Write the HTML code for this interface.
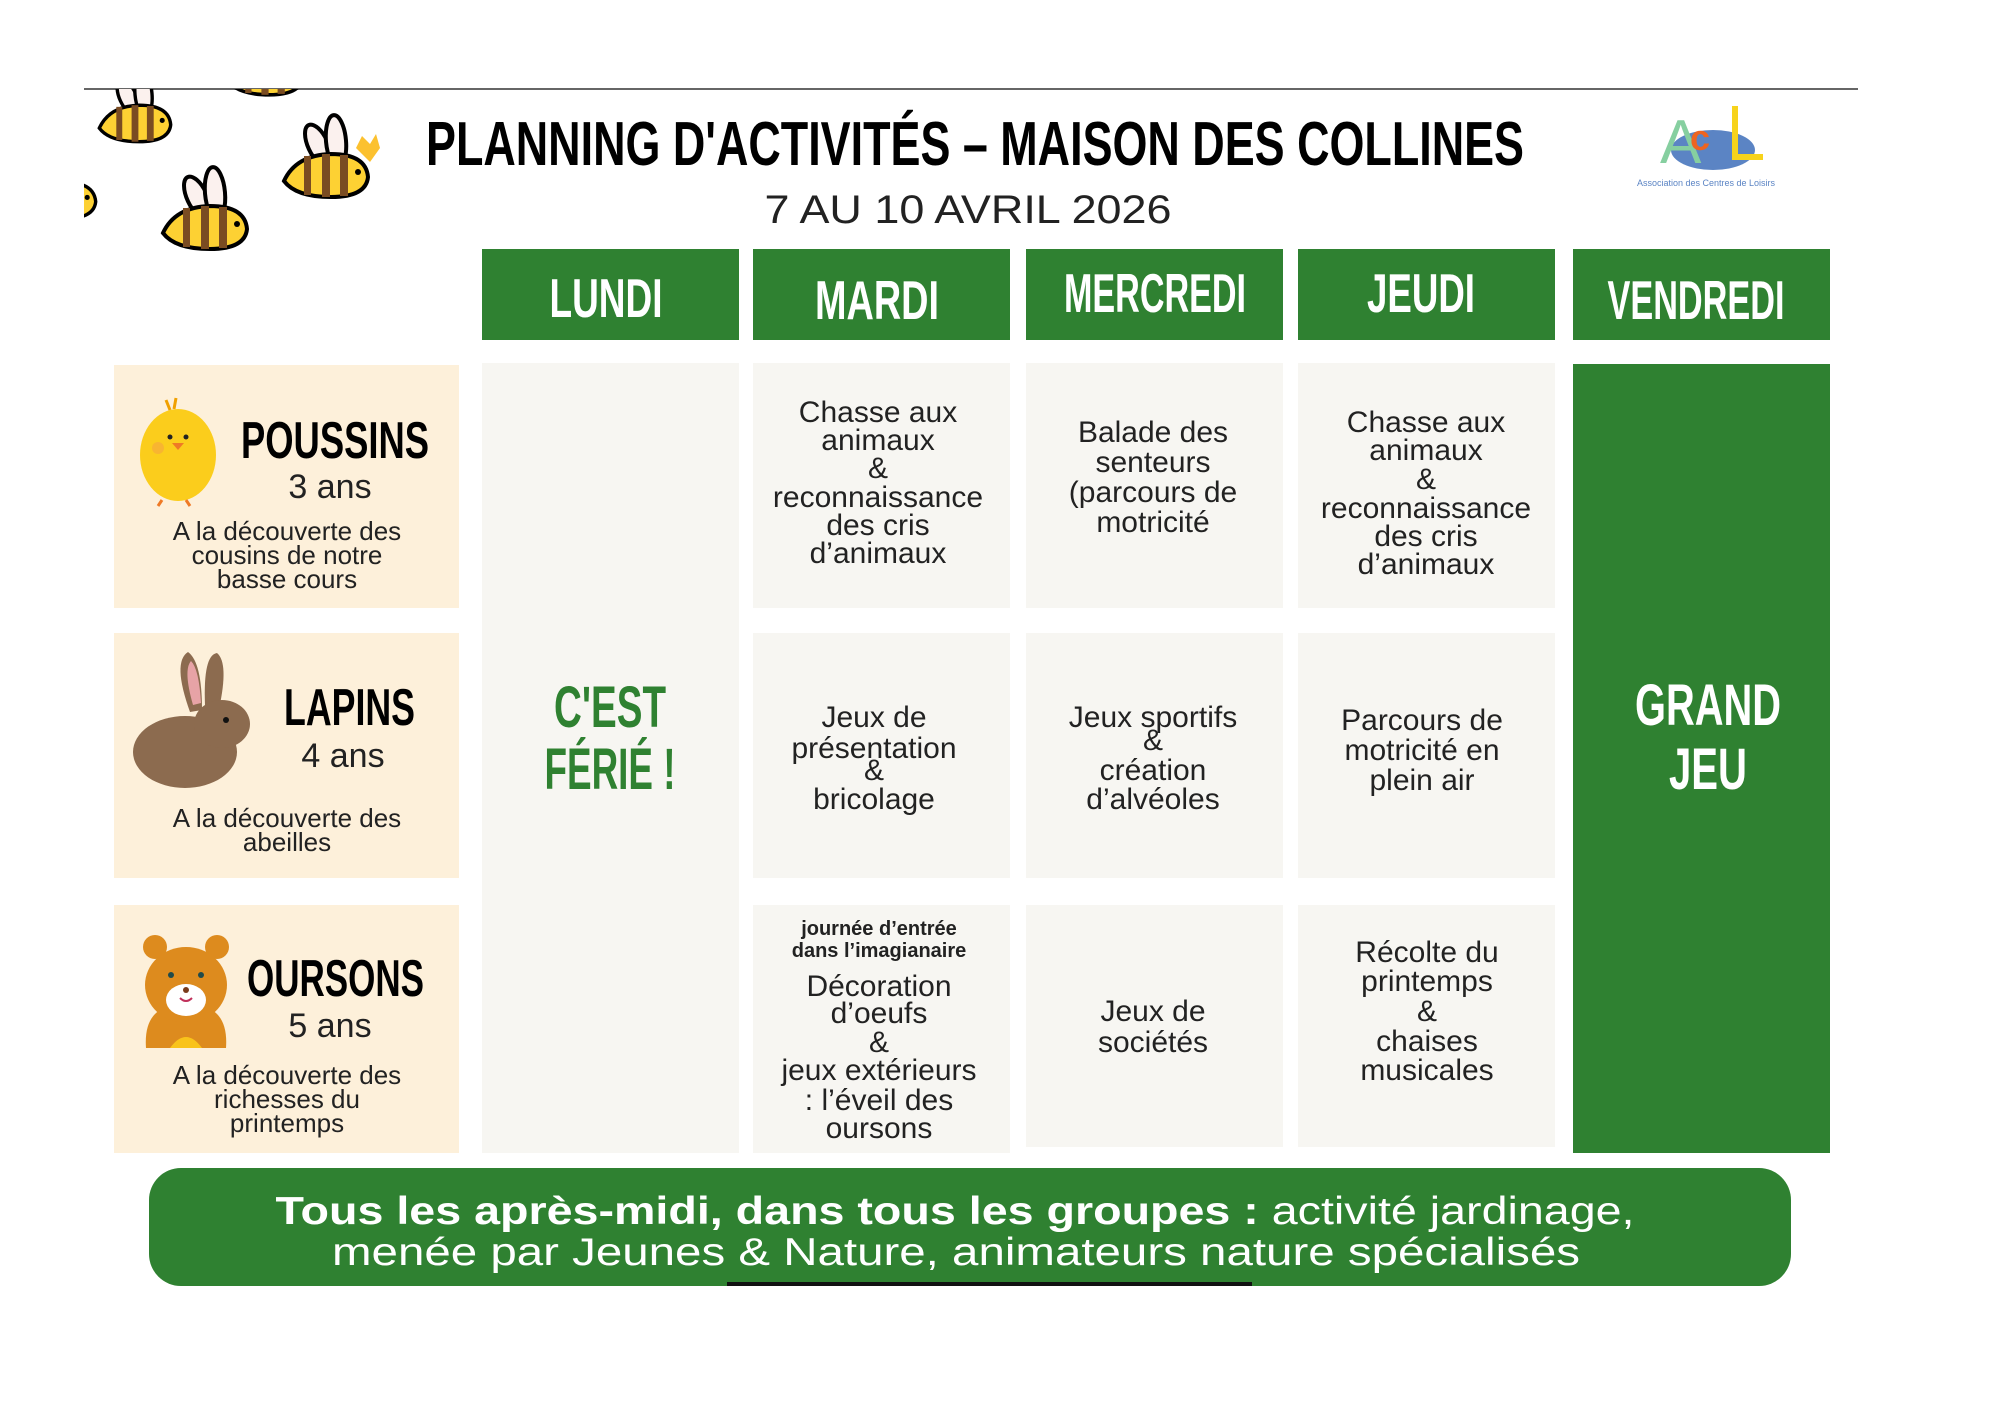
<!DOCTYPE html>
<html><head><meta charset="utf-8"><style>
html,body{margin:0;padding:0;background:#fff;}
svg{display:block;}
.h{font-family:"Liberation Sans Narrow","Liberation Sans",sans-serif;font-weight:bold;}
.t{font-family:"Liberation Sans",sans-serif;fill:#222;}
</style></head><body>
<svg width="2000" height="1414" viewBox="0 0 2000 1414" xmlns="http://www.w3.org/2000/svg">
<defs>
<clipPath id="cp"><rect x="84" y="89" width="1800" height="1300"/></clipPath>
<g id="bee">
 <ellipse cx="-8" cy="-30" rx="10" ry="22" transform="rotate(-25 -8 -30)" fill="#fbf1ee" stroke="#000" stroke-width="4"/>
 <ellipse cx="10" cy="-34" rx="10" ry="26" transform="rotate(-5 10 -34)" fill="#fbf1ee" stroke="#000" stroke-width="4"/>
 <path d="M-42 6 Q-30 -20 5 -21 Q40 -21 42 2 Q40 22 5 22 Q-30 22 -42 6Z" fill="#fdd133" stroke="#000" stroke-width="4"/>
 <rect x="-22" y="-19" width="7" height="39" fill="#7a4c22"/>
 <rect x="-4" y="-21" width="8" height="43" fill="#7a4c22"/>
 <rect x="14" y="-20" width="8" height="41" fill="#7a4c22"/>
 <circle cx="32" cy="-3" r="3" fill="#000"/>
</g>
</defs>
<line x1="84" y1="89" x2="1858" y2="89" stroke="#666" stroke-width="2"/>
<g clip-path="url(#cp)">
 <use href="#bee" transform="translate(135,123) scale(0.85)"/>
 <use href="#bee" transform="translate(205,227)"/>
 <use href="#bee" transform="translate(326,175)"/>
 <use href="#bee" transform="translate(60,200) scale(0.85)"/>
 <use href="#bee" transform="translate(265,75) scale(0.9)"/>
</g>
<path d="M356 148 l6 -12 l8 8 l6 -10 l4 14 l-10 14z" fill="#fcc12f"/>

<text class="h" x="975" y="165" font-size="62" text-anchor="middle" textLength="1098" lengthAdjust="spacingAndGlyphs" fill="#000">PLANNING D'ACTIVITÉS – MAISON DES COLLINES</text>
<text class="t" x="968" y="223" font-size="40" text-anchor="middle" textLength="407" lengthAdjust="spacingAndGlyphs" fill="#111">7 AU 10 AVRIL 2026</text>

<!-- logo -->
<ellipse cx="1713" cy="150" rx="42" ry="20" fill="#5b84c4"/>
<text x="1660" y="163" font-family="Liberation Sans,sans-serif" font-size="62" fill="#86cfa0">A</text>
<text x="1690" y="150" font-family="Liberation Sans,sans-serif" font-size="36" font-weight="bold" fill="#ee6420">c</text>
<path d="M1735 106 V157 H1763" stroke="#f7d31c" stroke-width="6" fill="none"/>
<text x="1706" y="186" font-family="Liberation Sans,sans-serif" font-size="9" text-anchor="middle" fill="#5b84c4">Association des Centres de Loisirs</text>

<!-- headers -->
<g fill="#2f8131">
<rect x="482" y="249" width="257" height="91"/>
<rect x="753" y="249" width="257" height="91"/>
<rect x="1026" y="249" width="257" height="91"/>
<rect x="1298" y="249" width="257" height="91"/>
<rect x="1573" y="249" width="257" height="91"/>
</g>
<g class="h" fill="#fff" font-size="55" text-anchor="middle">
<text x="606" y="317" textLength="113" lengthAdjust="spacingAndGlyphs">LUNDI</text>
<text x="877" y="319" textLength="124" lengthAdjust="spacingAndGlyphs">MARDI</text>
<text x="1155" y="312" textLength="182" lengthAdjust="spacingAndGlyphs">MERCREDI</text>
<text x="1421" y="312" textLength="108" lengthAdjust="spacingAndGlyphs">JEUDI</text>
<text x="1696" y="319" textLength="177" lengthAdjust="spacingAndGlyphs">VENDREDI</text>
</g>

<!-- group boxes -->
<g fill="#fdf0da">
<rect x="114" y="365" width="345" height="243"/>
<rect x="114" y="633" width="345" height="245"/>
<rect x="114" y="905" width="345" height="248"/>
</g>
<!-- cells -->
<g fill="#f7f6f2">
<rect x="482" y="363" width="257" height="790"/>
<rect x="753" y="363" width="257" height="245"/>
<rect x="1026" y="363" width="257" height="245"/>
<rect x="1298" y="363" width="257" height="245"/>
<rect x="753" y="633" width="257" height="245"/>
<rect x="1026" y="633" width="257" height="245"/>
<rect x="1298" y="633" width="257" height="245"/>
<rect x="753" y="905" width="257" height="248"/>
<rect x="1026" y="905" width="257" height="242"/>
<rect x="1298" y="905" width="257" height="242"/>
</g>
<rect x="1573" y="364" width="257" height="789" fill="#2f8131"/>

<!-- chick -->
<ellipse cx="178" cy="455" rx="38" ry="46" fill="#fbcd1c"/>
<path d="M170 410 l-4 -10 M174 409 l2 -11" stroke="#f0a000" stroke-width="3"/>
<circle cx="170" cy="437" r="2.5" fill="#222"/><circle cx="186" cy="437" r="2.5" fill="#222"/>
<path d="M172 443 h12 l-6 7z" fill="#ef7a26"/>
<circle cx="158" cy="448" r="6" fill="#f7a540" opacity=".6"/>
<path d="M162 500 l-4 6 M186 500 l4 6" stroke="#ef7a26" stroke-width="3"/>
<g class="h" fill="#000" font-size="52"><text x="241" y="458" textLength="188" lengthAdjust="spacingAndGlyphs">POUSSINS</text></g>
<g class="t" font-size="34" text-anchor="middle"><text x="330" y="498">3 ans</text></g>
<g class="t" font-size="26" text-anchor="middle">
<text x="287" y="540">A la découverte des</text><text x="287" y="564">cousins de notre</text><text x="287" y="588">basse cours</text></g>

<!-- rabbit -->
<path d="M190 712 q-18 -50 -2 -60 q14 10 14 58z" fill="#8c6b4f"/>
<path d="M205 705 q-2 -50 12 -52 q12 10 2 56z" fill="#8c6b4f"/>
<path d="M193 705 q-10 -35 -2 -44 q8 8 10 42z" fill="#e7a3a6"/>
<ellipse cx="185" cy="752" rx="52" ry="36" fill="#8c6b4f"/>
<ellipse cx="222" cy="724" rx="28" ry="24" fill="#8c6b4f"/>
<circle cx="226" cy="720" r="3" fill="#111"/>
<g class="h" fill="#000" font-size="52"><text x="284" y="725" textLength="131" lengthAdjust="spacingAndGlyphs">LAPINS</text></g>
<g class="t" font-size="34" text-anchor="middle"><text x="343" y="767">4 ans</text></g>
<g class="t" font-size="26" text-anchor="middle"><text x="287" y="827">A la découverte des</text><text x="287" y="851">abeilles</text></g>

<!-- bear -->
<circle cx="155" cy="947" r="12" fill="#dd8b1e"/><circle cx="217" cy="947" r="12" fill="#dd8b1e"/>
<path d="M160 1010 h52 q16 10 14 38 h-80 q-2 -28 14 -38z" fill="#dd8b1e"/>
<path d="M170 1048 q16 -22 32 0z" fill="#f9c31a"/>
<ellipse cx="186" cy="985" rx="41" ry="38" fill="#dd8b1e"/>
<ellipse cx="186" cy="1000" rx="20" ry="16" fill="#fff"/>
<circle cx="171" cy="975" r="3" fill="#1f4a4a"/><circle cx="201" cy="975" r="3" fill="#1f4a4a"/>
<circle cx="186" cy="990" r="3" fill="#7a3a1a"/>
<path d="M180 998 q6 6 12 0" stroke="#c0305a" stroke-width="2" fill="none"/>
<g class="h" fill="#000" font-size="52"><text x="247" y="996" textLength="177" lengthAdjust="spacingAndGlyphs">OURSONS</text></g>
<g class="t" font-size="34" text-anchor="middle"><text x="330" y="1037">5 ans</text></g>
<g class="t" font-size="26" text-anchor="middle"><text x="287" y="1084">A la découverte des</text><text x="287" y="1108">richesses du</text><text x="287" y="1132">printemps</text></g>

<!-- Lundi / Vendredi -->
<g class="h" font-size="58" text-anchor="middle" fill="#2f8131">
<text x="610" y="727" textLength="112" lengthAdjust="spacingAndGlyphs">C'EST</text>
<text x="610" y="789" textLength="131" lengthAdjust="spacingAndGlyphs">FÉRIÉ !</text></g>
<g class="h" font-size="58" text-anchor="middle" fill="#fff">
<text x="1708" y="725" textLength="146" lengthAdjust="spacingAndGlyphs">GRAND</text>
<text x="1708" y="789" textLength="78" lengthAdjust="spacingAndGlyphs">JEU</text></g>

<!-- activities -->
<g class="t" font-size="30" text-anchor="middle">
<text x="878" y="422">Chasse aux</text><text x="878" y="450">animaux</text><text x="878" y="478">&amp;</text><text x="878" y="507">reconnaissance</text><text x="878" y="535">des cris</text><text x="878" y="563">d’animaux</text>
<text x="1153" y="442">Balade des</text><text x="1153" y="472">senteurs</text><text x="1153" y="502">(parcours de</text><text x="1153" y="532">motricité</text>
<text x="1426" y="432">Chasse aux</text><text x="1426" y="460">animaux</text><text x="1426" y="489">&amp;</text><text x="1426" y="518">reconnaissance</text><text x="1426" y="546">des cris</text><text x="1426" y="574">d’animaux</text>
<text x="874" y="727">Jeux de</text><text x="874" y="758">présentation</text><text x="874" y="780">&amp;</text><text x="874" y="809">bricolage</text>
<text x="1153" y="727">Jeux sportifs</text><text x="1153" y="750">&amp;</text><text x="1153" y="780">création</text><text x="1153" y="809">d’alvéoles</text>
<text x="1422" y="730">Parcours de</text><text x="1422" y="760">motricité en</text><text x="1422" y="790">plein air</text>
<text x="879" y="996">Décoration</text><text x="879" y="1023">d’oeufs</text><text x="879" y="1052">&amp;</text><text x="879" y="1080">jeux extérieurs</text><text x="879" y="1110">: l’éveil des</text><text x="879" y="1138">oursons</text>
<text x="1153" y="1021">Jeux de</text><text x="1153" y="1052">sociétés</text>
<text x="1427" y="962">Récolte du</text><text x="1427" y="991">printemps</text><text x="1427" y="1021">&amp;</text><text x="1427" y="1051">chaises</text><text x="1427" y="1080">musicales</text>
</g>
<g class="t" font-size="20" font-weight="bold" text-anchor="middle" fill="#000">
<text x="879" y="935">journée d’entrée</text><text x="879" y="957">dans l’imagianaire</text></g>

<!-- footer -->
<rect x="149" y="1168" width="1642" height="118" rx="32" fill="#2f8131"/>
<rect x="727" y="1282" width="525" height="4" fill="#111"/>
<text x="955" y="1224" font-family="Liberation Sans,sans-serif" font-size="39" fill="#fff" text-anchor="middle" textLength="1359" lengthAdjust="spacingAndGlyphs"><tspan font-weight="bold">Tous les après-midi, dans tous les groupes :</tspan> activité jardinage,</text>
<text x="956" y="1265" font-family="Liberation Sans,sans-serif" font-size="39" fill="#fff" text-anchor="middle" textLength="1248" lengthAdjust="spacingAndGlyphs">menée par Jeunes &amp; Nature, animateurs nature spécialisés</text>
</svg>
</body></html>
